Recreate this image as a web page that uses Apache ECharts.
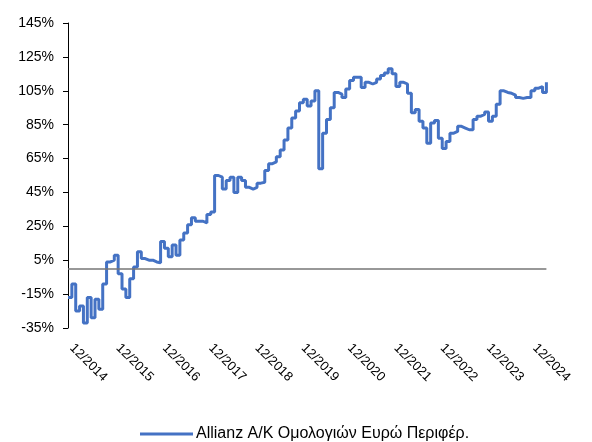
<!DOCTYPE html>
<html>
<head>
<meta charset="utf-8">
<script src="https://cdn.jsdelivr.net/npm/echarts@6/dist/echarts.min.js"></script>
<style>
html,body{margin:0;padding:0;background:#fff;}
#chart{width:592px;height:442px;}
</style>
</head>
<body>
<div id="chart"></div>
<script>
// Monthly categories, Nov 2014 .. Mar 2025
const startYear = 2014, startMonth = 11, monthCount = 125;
const months = [];
for (let i = 0; i < monthCount; i++) {
  const m = (startMonth - 1 + i) % 12 + 1;
  const y = startYear + Math.floor((startMonth - 1 + i) / 12);
  months.push((m < 10 ? '0' + m : '' + m) + '/' + y);
}
const tickLabels = ['12/2014','12/2015','12/2016','12/2017','12/2018','12/2019','12/2020','12/2021','12/2022','12/2023','12/2024'];
const seriesName = 'Allianz A/K Ομολογιών Ευρώ Περιφέρ.';
const values = [
  -17, -9, -25, -22, -32, -17, -29, -18, -24, -9,
  4, 5, 8, -3, -12, -17, -6, 1, 10, 6,
  5, 5, 4, 3.5, 16, 12, 7, 14, 8, 17,
  21, 26, 30, 28, 28, 27, 32, 33.5, 55, 54,
  47, 52, 54, 45, 54, 52, 48, 47, 48, 50.5,
  51, 58, 62, 63, 66, 70, 76, 83, 89, 93,
  98, 100, 96, 99, 105, 59, 80, 88, 95, 104,
  103, 101, 106, 111, 113, 113, 107, 110, 109, 110,
  112, 114, 115.5, 118, 115, 107.5, 110, 109, 103.5, 92,
  94, 87, 83, 74, 86, 87.5, 77, 71, 75, 80,
  81, 84, 83, 82, 82, 88, 90, 91, 92.5, 87,
  90, 97, 105, 104, 103.5, 102.5, 101, 100.5, 101, 101,
  105, 106.5, 107.5, 104, 110
];
const yMin = -35, yMax = 145, yStep = 20;

const chart = echarts.init(document.getElementById('chart'), null, {renderer: 'canvas'});
chart.setOption({
  animation: false,
  backgroundColor: '#ffffff',
  textStyle: {fontFamily: 'Liberation Sans, Arial, sans-serif'},
  grid: {left: 68, top: 23, width: 478.4, height: 305, containLabel: false},
  legend: {
    data: [seriesName],
    left: 140, top: 425, padding: 0,
    icon: 'rect', itemWidth: 53, itemHeight: 3, itemGap: 4,
    textStyle: {fontSize: 16, lineHeight: 18, color: '#000', padding: [0, 0, 0, -2]}
  },
  xAxis: {
    type: 'category',
    data: months,
    boundaryGap: false,
    axisLine: {show: false},
    axisTick: {show: false},
    splitLine: {show: false},
    axisLabel: {
      interval: function (i, v) { return tickLabels.indexOf(v) >= 0; },
      rotate: -45,
      margin: 18,
      fontSize: 13,
      color: '#000'
    }
  },
  yAxis: {
    type: 'value',
    min: yMin, max: yMax, interval: yStep,
    axisLine: {show: true, lineStyle: {color: '#000', width: 1}},
    axisTick: {show: true, length: 5, lineStyle: {color: '#000'}},
    splitLine: {show: false},
    axisLabel: {formatter: '{value}%', fontSize: 14, color: '#000', margin: 14}
  },
  series: [{
    name: seriesName,
    type: 'line',
    data: values,
    step: 'end',
    showSymbol: false,
    symbol: 'none',
    lineStyle: {color: '#4472C4', width: 3},
    itemStyle: {color: '#4472C4'},
    markLine: {
      silent: true,
      symbol: 'none',
      label: {show: false},
      lineStyle: {color: '#767676', width: 1.5, type: 'solid'},
      data: [{yAxis: 0}]
    },
    z: 3
  }]
});
</script>
</body>
</html>
